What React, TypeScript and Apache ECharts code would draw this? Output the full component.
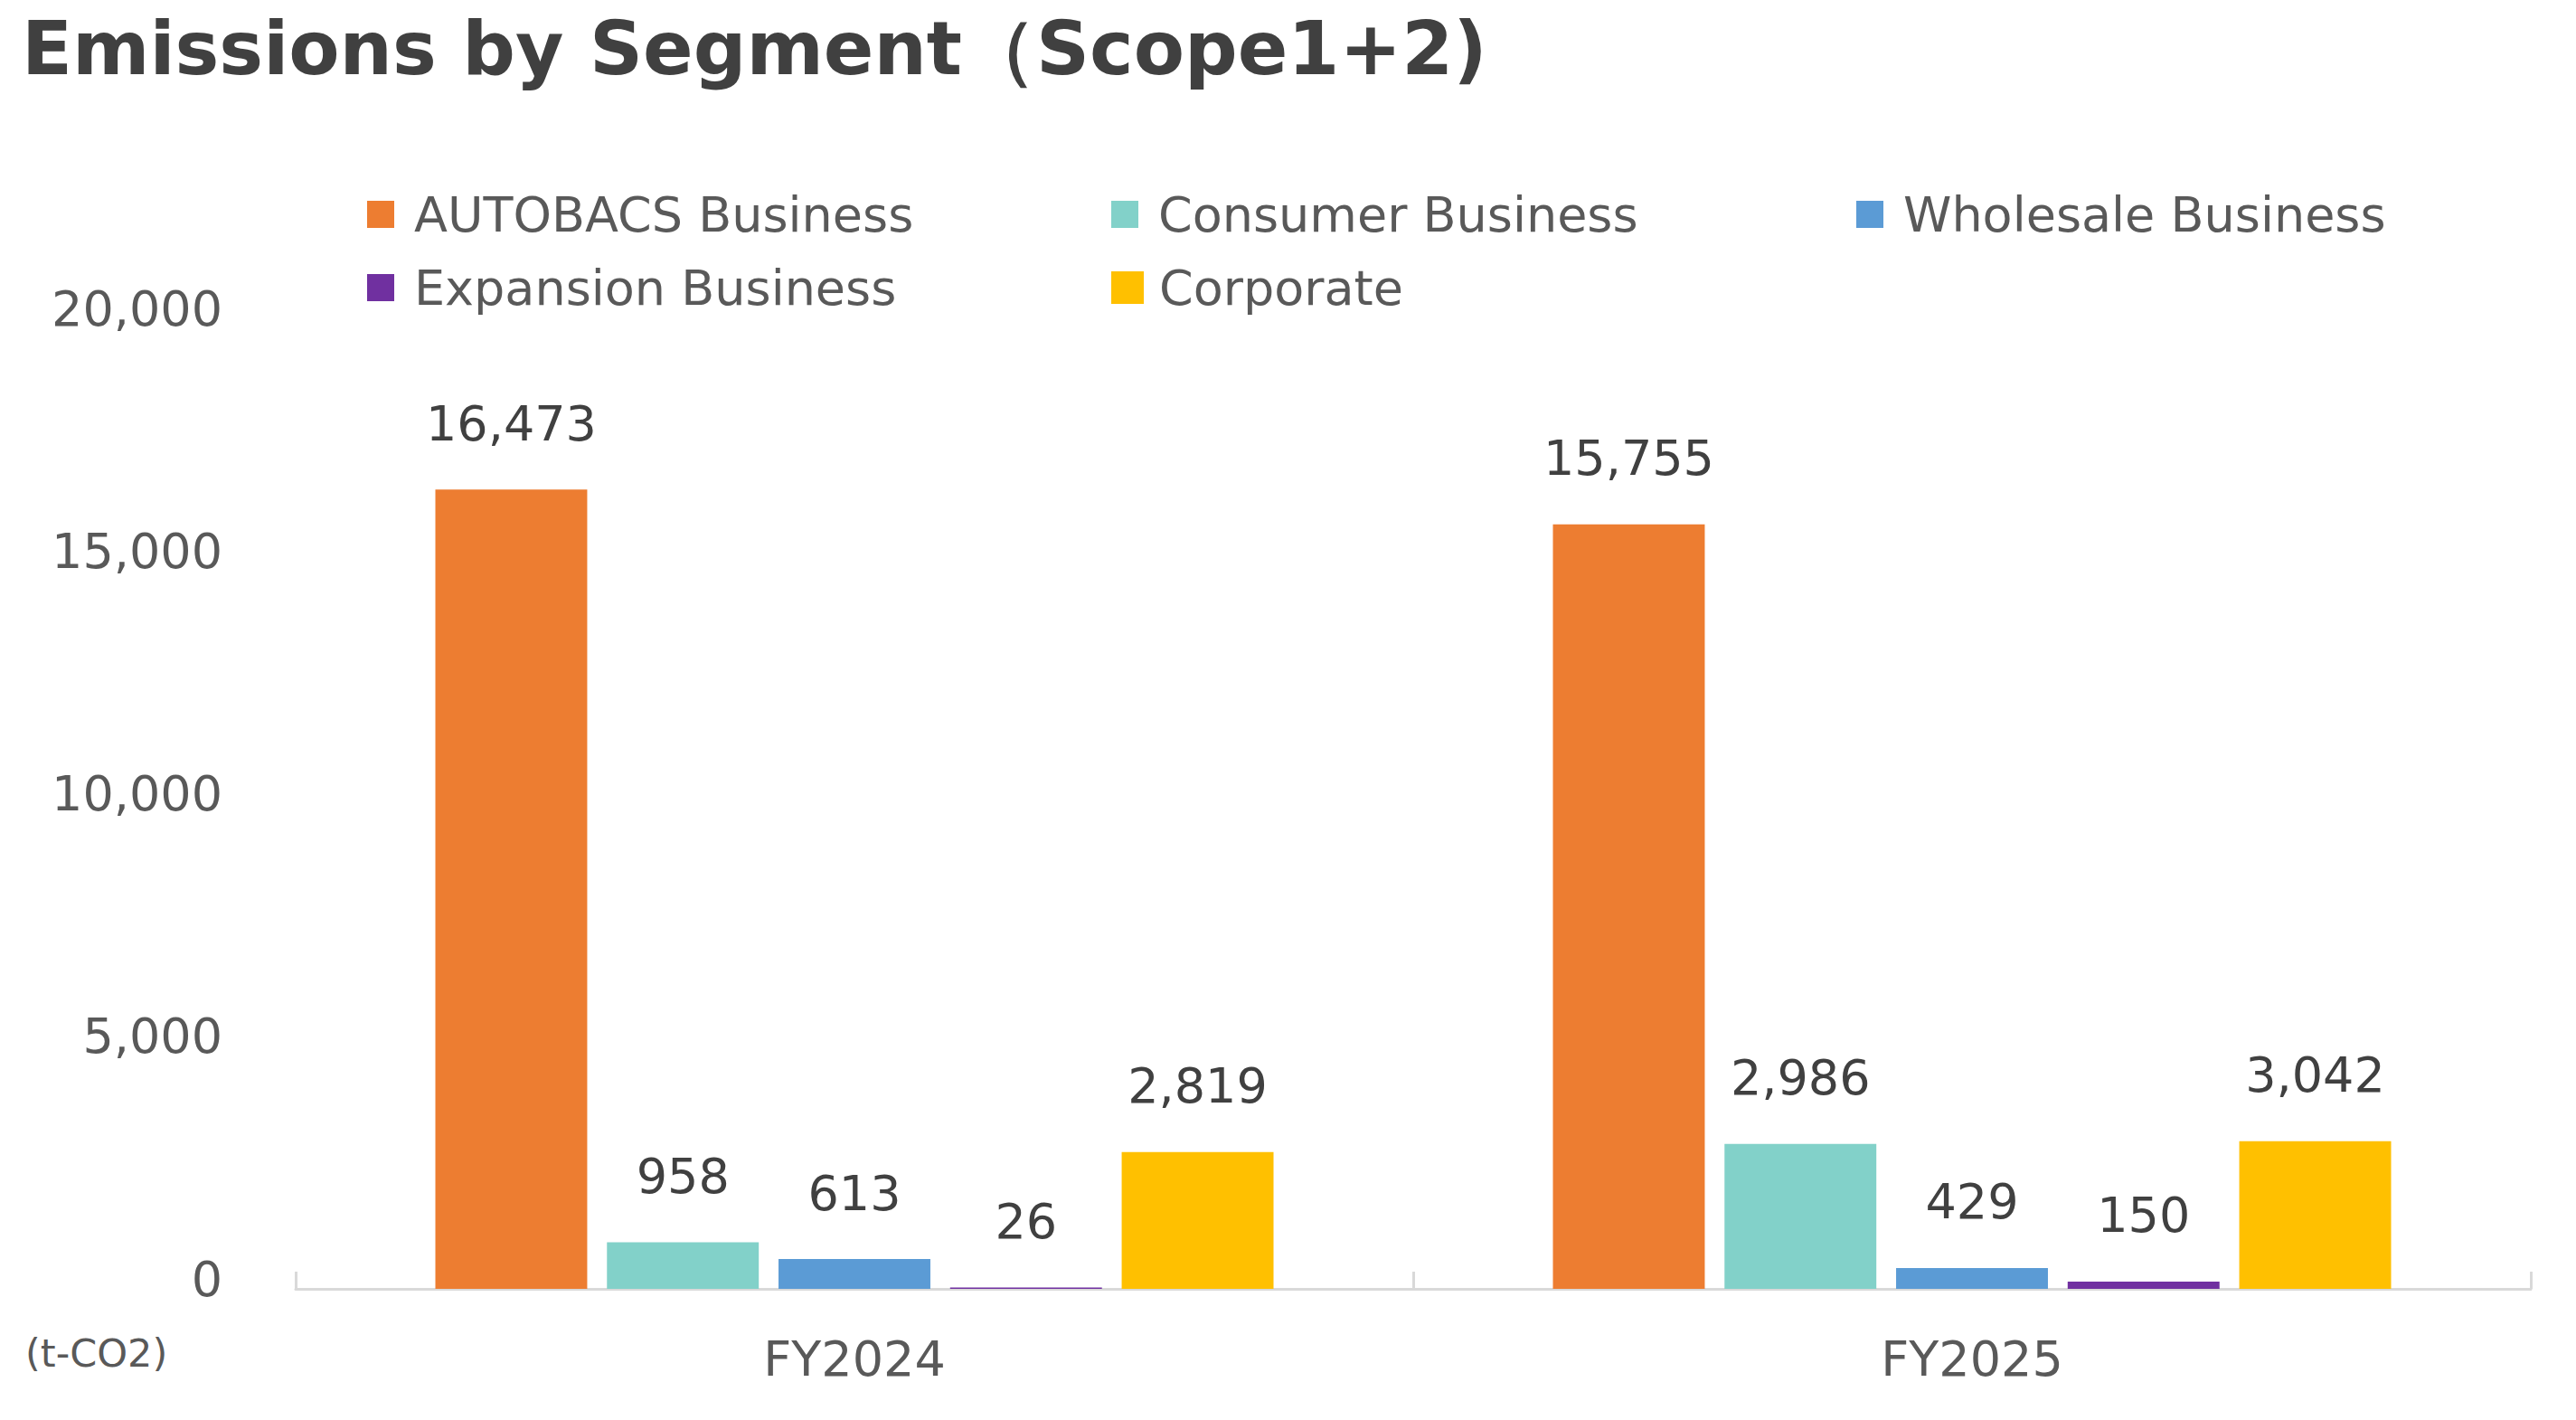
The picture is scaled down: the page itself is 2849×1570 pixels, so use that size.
import React, { useEffect, useRef } from 'react';
import * as echarts from 'echarts';

// 年度（カテゴリ）
const years = ['FY2024', 'FY2025'];

// セグメント別排出量 (t-CO2)
const segmentNames = [
  'AUTOBACS Business',
  'Consumer Business',
  'Wholesale Business',
  'Expansion Business',
  'Corporate',
];
const autobacs = [16473, 15755];
const consumer = [958, 2986];
const wholesale = [613, 429];
const expansion = [26, 150];
const corporate = [2819, 3042];

const segmentColors = ['#ED7D31', '#82D1C9', '#5B9BD5', '#7030A0', '#FFC000'];

const yTicks = [0, 5000, 10000, 15000, 20000];

const FONT = '"DejaVu Sans", Verdana, sans-serif';

const App: React.FC = () => {
  const chartRef = useRef<HTMLDivElement>(null);

  useEffect(() => {
    if (!chartRef.current) return;
    const myChart = echarts.init(chartRef.current, undefined, { renderer: 'svg' });

    const seriesData = [autobacs, consumer, wholesale, expansion, corporate];

    // 凡例の配置（2段3列）
    const legendPos = [
      { left: 406, top: 207 },
      { left: 1229, top: 207 },
      { left: 2053, top: 207 },
      { left: 406, top: 288 },
      { left: 1229, top: 288 },
    ];

    const option = {
      animation: false,
      backgroundColor: '#ffffff',
      title: {
        text: 'Emissions by Segment（Scope1+2)',
        left: 24,
        top: 12,
        padding: 0,
        textStyle: {
          fontFamily: FONT,
          fontSize: 82,
          lineHeight: 82,
          fontWeight: 'bold',
          color: '#404040',
        },
      },
      legend: segmentNames.map((name, i) => ({
        data: [name],
        left: legendPos[i].left,
        top: legendPos[i].top,
        padding: 0,
        itemGap: 0,
        itemWidth: i === 4 ? 36 : 30,
        itemHeight: i === 4 ? 36 : 30,
        icon: 'rect',
        selectedMode: false,
        textStyle: {
          fontFamily: FONT,
          fontSize: 54,
          lineHeight: 48,
          color: '#595959',
          padding: [0, 0, 12, i === 4 ? 12 : 17],
        },
      })),
      grid: {
        left: 327,
        right: 50,
        top: 352,
        bottom: 145,
        containLabel: false,
      },
      xAxis: {
        type: 'category',
        data: years,
        axisLine: { show: true, lineStyle: { color: '#D9D9D9', width: 3 } },
        axisTick: {
          show: true,
          inside: true,
          length: 19,
          lineStyle: { color: '#D9D9D9', width: 3 },
        },
        axisLabel: {
          margin: 50,
          fontFamily: FONT,
          fontSize: 54,
          color: '#595959',
        },
      },
      yAxis: {
        type: 'value',
        min: yTicks[0],
        max: yTicks[yTicks.length - 1],
        interval: yTicks[1] - yTicks[0],
        axisLine: { show: false },
        axisTick: { show: false },
        splitLine: { show: false },
        axisLabel: {
          margin: 81,
          fontFamily: FONT,
          fontSize: 54,
          lineHeight: 22,
          verticalAlign: 'bottom',
          color: '#595959',
          formatter: (v: number) => v.toLocaleString('en-US'),
        },
      },
      series: segmentNames.map((name, i) => ({
        name,
        type: 'bar',
        data: seriesData[i],
        barGap: '13%',
        barCategoryGap: '25%',
        itemStyle: { color: segmentColors[i] },
        label: {
          show: true,
          position: 'top',
          distance: 46,
          fontFamily: FONT,
          fontSize: 54,
          color: '#404040',
          formatter: (p: any) => Number(p.value).toLocaleString('en-US'),
        },
      })),
      graphic: [
        {
          type: 'text',
          left: 28,
          top: 1474,
          style: {
            text: '(t-CO2)',
            fontFamily: FONT,
            fontSize: 43,
            fill: '#595959',
          },
        },
      ],
    };

    myChart.setOption(option);

    return () => {
      myChart.dispose();
    };
  }, []);

  return (
    <div
      ref={chartRef}
      style={{
        position: 'absolute',
        left: 0,
        top: 0,
        width: '2849px',
        height: '1570px',
      }}
    />
  );
};

export default App;
